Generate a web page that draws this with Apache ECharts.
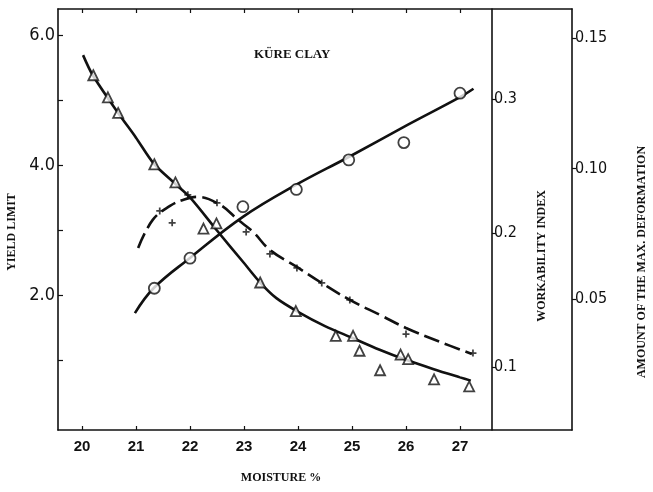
<!DOCTYPE html>
<html>
<head>
<meta charset="utf-8">
<script src="https://cdn.jsdelivr.net/npm/echarts@6/dist/echarts.min.js"></script>
<style>
html,body{margin:0;padding:0;background:#fff;}
#chart{width:653px;height:492px;}
</style>
</head>
<body>
<div id="chart"></div>
<script>
// ---- tick labels ----
var xTicks = [20, 21, 22, 23, 24, 25, 26, 27];
var yieldTicks = [1, 2, 3, 4, 5, 6];
var yieldLabels = [2, 4, 6];
var workTicks = [0.1, 0.2, 0.3];
var deformTicks = [0.05, 0.10, 0.15];

// ---- yield limit (triangles), left axis ----
var yieldPoints = [
  [20.21, 5.38], [20.48, 5.04], [20.67, 4.80], [21.34, 4.01], [21.73, 3.73],
  [22.25, 3.02], [22.49, 3.10], [23.30, 2.19], [23.96, 1.75], [24.70, 1.37],
  [25.02, 1.37], [25.14, 1.14], [25.52, 0.84], [25.90, 1.08], [26.04, 1.01],
  [26.52, 0.70], [27.17, 0.59]
];
var yieldCurve = [
  [20.02, 5.69], [20.20, 5.38], [20.67, 4.80], [21.00, 4.42], [21.33, 4.02],
  [21.70, 3.73], [22.00, 3.50], [22.50, 2.99], [23.00, 2.49], [23.30, 2.19],
  [23.60, 1.95], [24.00, 1.74], [24.50, 1.52], [25.00, 1.34], [25.50, 1.16],
  [26.00, 1.00], [26.50, 0.86], [27.00, 0.73], [27.20, 0.68]
];

// ---- amount of max. deformation (circles), outer right axis ----
var deformPoints = [
  [21.34, 0.0542], [22.00, 0.0657], [22.98, 0.0854], [23.97, 0.0920],
  [24.94, 0.1033], [25.96, 0.1099], [27.00, 0.1288]
];
var deformCurve = [
  [20.98, 0.0447], [21.33, 0.0543], [22.00, 0.0658], [22.98, 0.0815],
  [23.96, 0.0937], [24.94, 0.1044], [26.02, 0.1166], [27.00, 0.1273],
  [27.25, 0.1305]
];

// ---- workability index (plus marks), inner right axis ----
var workPoints = [
  [21.44, 0.2164], [21.67, 0.2075], [21.96, 0.2284], [22.50, 0.2224],
  [23.04, 0.2007], [23.48, 0.1843], [23.98, 0.1739], [24.44, 0.1627],
  [24.96, 0.1500], [26.00, 0.1246], [27.24, 0.1104]
];
var workCurve = [
  [21.04, 0.1888], [21.31, 0.2097], [21.63, 0.2201], [21.87, 0.2246],
  [22.13, 0.2269], [22.56, 0.2209], [22.89, 0.2097], [23.17, 0.2007],
  [23.48, 0.1873], [23.98, 0.1746], [24.41, 0.1634], [24.96, 0.1500],
  [25.52, 0.1388], [26.00, 0.1291], [26.63, 0.1187], [27.22, 0.1097]
];

var tickFont = '"DejaVu Sans Condensed","Liberation Sans Narrow","DejaVu Sans",sans-serif';
var serifFont = '"Liberation Serif","DejaVu Serif",serif';
var plusPath = 'path://M3,0h2v3h3v2h-3v3h-2v-3h-3v-2h3z';

var chart = echarts.init(document.getElementById('chart'));
chart.setOption({
  animation: false,
  backgroundColor: '#fff',
  grid: { left: 58, right: 81, top: 9, bottom: 62, containLabel: false, outerBoundsMode: 'none' },
  xAxis: [{
    type: 'value', position: 'bottom', min: 19.556, max: 29.074,
    splitLine: { show: false },
    axisLine: { onZero: false, lineStyle: { color: '#111', width: 1.6 } },
    axisTick: { inside: true, length: 4, customValues: xTicks, lineStyle: { color: '#111', width: 1.2 } },
    axisLabel: { customValues: xTicks, margin: 9, color: '#111',
      fontFamily: '"Liberation Sans",Arial,sans-serif', fontWeight: 'bold', fontSize: 15 }
  }, {
    type: 'value', position: 'top', min: 19.556, max: 29.074,
    splitLine: { show: false },
    axisLine: { onZero: false, lineStyle: { color: '#111', width: 1.6 } },
    axisTick: { inside: true, length: 4, customValues: xTicks, lineStyle: { color: '#111', width: 1.2 } },
    axisLabel: { show: false }
  }],
  yAxis: [{
    type: 'value', position: 'left', min: -0.08, max: 6.4,
    splitLine: { show: false },
    axisLine: { show: true, onZero: false, lineStyle: { color: '#111', width: 1.6 } },
    axisTick: { show: true, inside: true, length: 5, customValues: yieldTicks, lineStyle: { color: '#111', width: 1.2 } },
    axisLabel: { customValues: yieldLabels, margin: 3, color: '#111', fontFamily: tickFont, fontSize: 18,
      formatter: function (v) { return v.toFixed(1); } }
  }, {
    type: 'value', position: 'right', offset: -80, min: 0.053, max: 0.367,
    splitLine: { show: false },
    axisLine: { show: true, onZero: false, lineStyle: { color: '#111', width: 1.6 } },
    axisTick: { show: true, inside: false, length: 4, customValues: workTicks, lineStyle: { color: '#111', width: 1.2 } },
    axisLabel: { customValues: workTicks, margin: 2, color: '#111', fontFamily: tickFont, fontSize: 16,
      formatter: function (v) { return v.toFixed(1); } }
  }, {
    type: 'value', position: 'right', offset: 0, min: 0, max: 0.161,
    splitLine: { show: false },
    axisLine: { show: true, onZero: false, lineStyle: { color: '#111', width: 1.6 } },
    axisTick: { show: true, inside: false, length: 4, customValues: deformTicks, lineStyle: { color: '#111', width: 1.2 } },
    axisLabel: { customValues: deformTicks, margin: 3, color: '#111', fontFamily: tickFont, fontSize: 16,
      formatter: function (v) { return v.toFixed(2); } }
  }],
  graphic: [
    { type: 'text', left: 254, top: 48, style: { text: 'KÜRE CLAY', font: 'bold 13px ' + serifFont, fill: '#111' } },
    { type: 'text', x: 12, y: 232, rotation: Math.PI / 2,
      style: { text: 'YIELD LIMIT', font: 'bold 12px ' + serifFont, fill: '#111', align: 'center', verticalAlign: 'middle' } },
    { type: 'text', x: 542, y: 256, rotation: Math.PI / 2,
      style: { text: 'WORKABILITY INDEX', font: 'bold 12px ' + serifFont, fill: '#111', align: 'center', verticalAlign: 'middle' } },
    { type: 'text', x: 642, y: 262, rotation: Math.PI / 2,
      style: { text: 'AMOUNT OF THE MAX. DEFORMATION', font: 'bold 12px ' + serifFont, fill: '#111', align: 'center', verticalAlign: 'middle' } },
    { type: 'text', x: 281, y: 478,
      style: { text: 'MOISTURE %', font: 'bold 12px ' + serifFont, fill: '#111', align: 'center', verticalAlign: 'middle' } }
  ],
  series: [{
    name: 'Yield limit fit', type: 'line', yAxisIndex: 0, data: yieldCurve, smooth: 0.3,
    showSymbol: false, lineStyle: { color: '#111', width: 2.6 }, z: 2
  }, {
    name: 'Yield limit', type: 'scatter', yAxisIndex: 0, data: yieldPoints, symbol: 'triangle', symbolSize: [10, 10],
    itemStyle: { color: '#fff', borderColor: '#111', borderWidth: 1.8 }, z: 5
  }, {
    name: 'Deformation fit', type: 'line', yAxisIndex: 2, data: deformCurve, smooth: 0.4,
    showSymbol: false, lineStyle: { color: '#111', width: 2.6 }, z: 2
  }, {
    name: 'Deformation', type: 'scatter', yAxisIndex: 2, data: deformPoints, symbol: 'circle', symbolSize: 11,
    itemStyle: { color: '#fff', borderColor: '#111', borderWidth: 1.8 }, z: 5
  }, {
    name: 'Workability fit', type: 'line', yAxisIndex: 1, data: workCurve, smooth: 0.4,
    showSymbol: false, lineStyle: { color: '#111', width: 2.6, type: [16, 6] }, z: 2
  }, {
    name: 'Workability', type: 'scatter', yAxisIndex: 1, data: workPoints, symbol: plusPath, symbolSize: 7,
    itemStyle: { color: '#111' }, z: 5
  }]
});
</script>
</body>
</html>
